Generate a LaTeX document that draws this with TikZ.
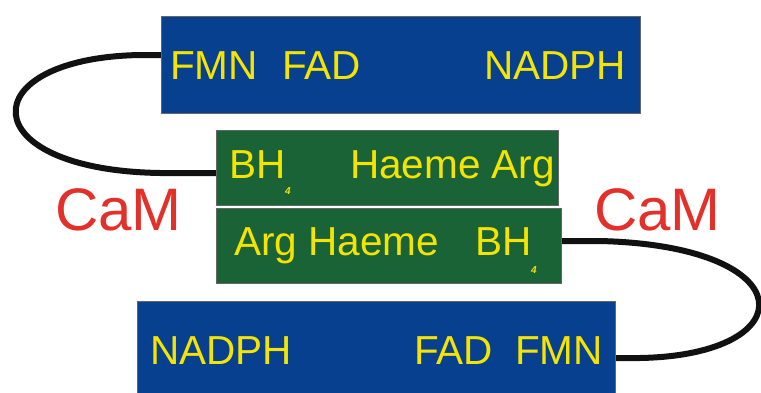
\documentclass[tikz,border=0pt]{standalone}
\usepackage{fontspec}
\setmainfont{Liberation Sans}
\usetikzlibrary{backgrounds}
\definecolor{boxblue}{HTML}{06408E}
\definecolor{boxgreen}{HTML}{1A6337}
\definecolor{txtyellow}{HTML}{F5E400}
\definecolor{camred}{HTML}{E2302A}
\definecolor{linker}{HTML}{111111}
\begin{document}
\begin{tikzpicture}[x=1pt,y=-1pt,
  dombox/.style={draw=black!60,line width=0.8pt,inner sep=0pt,outer sep=0pt},
  bluebox/.style={dombox,fill=boxblue},
  greenbox/.style={dombox,fill=boxgreen},
  lbl/.style={text=txtyellow,font=\fontsize{40.5}{40}\selectfont,anchor=base west,inner sep=0pt},
  subl/.style={text=txtyellow,font=\fontsize{10}{10}\selectfont\itshape\bfseries,anchor=base west,inner sep=0pt},
  cam/.style={text=camred,font=\fontsize{60}{60}\selectfont,anchor=base west,inner sep=0pt},
  link/.style={draw=linker,line width=6pt}]
\useasboundingbox (0,0) rectangle (761,392);
\clip (0,0) rectangle (761,392);
\node[bluebox,minimum width=479pt,minimum height=97pt] (top) at (400.5,64.5) {};
\node[greenbox,minimum width=342pt,minimum height=75pt] (g1) at (387,168) {};
\node[greenbox,minimum width=345pt,minimum height=75pt] (g2) at (388.5,246) {};
\node[bluebox,minimum width=478pt,minimum height=99pt] (bot) at (376,350.5) {};
\coordinate (l1) at ([yshift=9.5pt,xshift=1pt]top.west);
\coordinate (l2) at ([yshift=-5pt,xshift=1pt]g1.west);
\coordinate (r1) at ([yshift=5pt,xshift=-1pt]g2.east);
\coordinate (r2) at ([yshift=-7.5pt,xshift=-1pt]bot.east);
\begin{pgfonlayer}{background}
\fill[white] (0,0) rectangle (761,392);
\draw[link] (l1) -- (140,55) .. controls (-29,58) and (-29,170) .. (160,173) -- (l2);
\draw[link] (r1) -- (600,241) .. controls (805,246) and (805,355) .. (640,358) -- (r2);
\end{pgfonlayer}
% top box labels
\node[lbl] (fmn1) at (170,79) {FMN};
\node[lbl] (fad1) at (282,79) {FAD};
\node[lbl] (nadph1) at (484,79) {NADPH};
% green box 1
\node[lbl] (bh1) at (229,178) {BH};
\node[subl] (s1) at (285,194) {4};
\node[lbl] (hae1) at (350,178) {Haeme Arg};
% green box 2
\node[lbl] (arg2) at (234,255) {Arg Haeme};
\node[lbl] (bh2) at (475,255) {BH};
\node[subl] (s2) at (531,273) {4};
% bottom box
\node[lbl] (nadph2) at (150,364) {NADPH};
\node[lbl] (fad2) at (414,364) {FAD};
\node[lbl] (fmn2) at (515,364) {FMN};
% CaM labels
\node[cam] (cam1) at (55,230) {CaM};
\node[cam] (cam2) at (594,230) {CaM};
\end{tikzpicture}
\end{document}
